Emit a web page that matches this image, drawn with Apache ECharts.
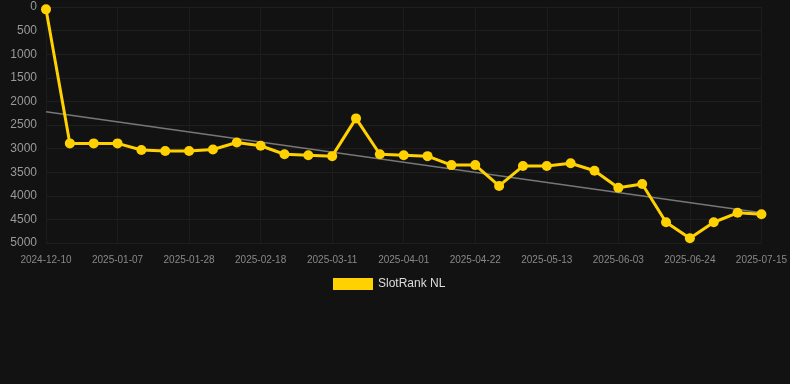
<!DOCTYPE html>
<html>
<head>
<meta charset="utf-8">
<script src="https://cdn.jsdelivr.net/npm/echarts@6/dist/echarts.min.js"></script>
<style>
  html, body { margin: 0; padding: 0; background: #121212; }
  #chart { width: 790px; height: 384px; }
</style>
</head>
<body>
<div id="chart"></div>
<script>
// weekly dates (labels shown every 3rd point)
const dates = [
  '2024-12-10', '2024-12-17', '2024-12-31', '2025-01-07', '2025-01-14', '2025-01-21',
  '2025-01-28', '2025-02-04', '2025-02-11', '2025-02-18', '2025-02-25', '2025-03-04',
  '2025-03-11', '2025-03-18', '2025-03-25', '2025-04-01', '2025-04-08', '2025-04-15',
  '2025-04-22', '2025-04-29', '2025-05-06', '2025-05-13', '2025-05-20', '2025-05-27',
  '2025-06-03', '2025-06-10', '2025-06-17', '2025-06-24', '2025-07-01', '2025-07-08',
  '2025-07-15'
];

// rank values (lower is better, axis inverted)
const rankNL = [
  50, 2890, 2890, 2890, 3030, 3050, 3050, 3020, 2870, 2940, 3120, 3140,
  3160, 2360, 3120, 3140, 3160, 3350, 3350, 3790, 3370, 3370, 3310, 3470,
  3830, 3750, 4560, 4900, 4560, 4360, 4390
];

// trend line end points
const trendStart = 2220;
const trendEnd = 4360;
const trend = dates.map((d, i) => (i === 0 ? trendStart : i === dates.length - 1 ? trendEnd : null));

const yTicks = [0, 500, 1000, 1500, 2000, 2500, 3000, 3500, 4000, 4500, 5000];

const chart = echarts.init(document.getElementById('chart'));

const option = {
  backgroundColor: '#121212',
  animation: false,
  grid: {
    left: 46,
    right: 28,
    top: 7,
    bottom: 141
  },
  legend: {
    data: ['SlotRank NL'],
    top: 278,
    left: 333,
    padding: 0,
    icon: 'rect',
    itemWidth: 40,
    itemHeight: 12,
    itemGap: 6,
    textStyle: { color: '#dddddd', fontSize: 12, fontFamily: 'Arial, Liberation Sans, sans-serif' }
  },
  xAxis: {
    type: 'category',
    data: dates,
    boundaryGap: false,
    axisLine: { show: false },
    axisTick: { show: false },
    axisLabel: {
      interval: 2,
      color: '#888888',
      fontSize: 10,
      margin: 12,
      fontFamily: 'Arial, Liberation Sans, sans-serif'
    },
    splitLine: {
      show: true,
      interval: 2,
      lineStyle: { color: '#1c1c1c', width: 1 }
    }
  },
  yAxis: {
    type: 'value',
    inverse: true,
    min: yTicks[0],
    max: yTicks[yTicks.length - 1],
    interval: 500,
    axisLine: { show: false },
    axisTick: { show: false },
    axisLabel: {
      color: '#999999',
      fontSize: 12,
      margin: 9,
      formatter: (v) => String(v),
      fontFamily: 'Arial, Liberation Sans, sans-serif'
    },
    splitLine: { lineStyle: { color: '#1f1f1f', width: 1 } }
  },
  series: [
    {
      name: 'Trend',
      type: 'line',
      data: trend,
      connectNulls: true,
      showSymbol: false,
      symbol: 'none',
      lineStyle: { color: '#777777', width: 1.5 },
      z: 1,
      silent: true
    },
    {
      name: 'SlotRank NL',
      type: 'line',
      data: rankNL,
      symbol: 'circle',
      symbolSize: 10,
      itemStyle: { color: '#FFD100' },
      lineStyle: { color: '#FFD100', width: 3 },
      z: 2
    }
  ]
};

chart.setOption(option);
</script>
</body>
</html>
